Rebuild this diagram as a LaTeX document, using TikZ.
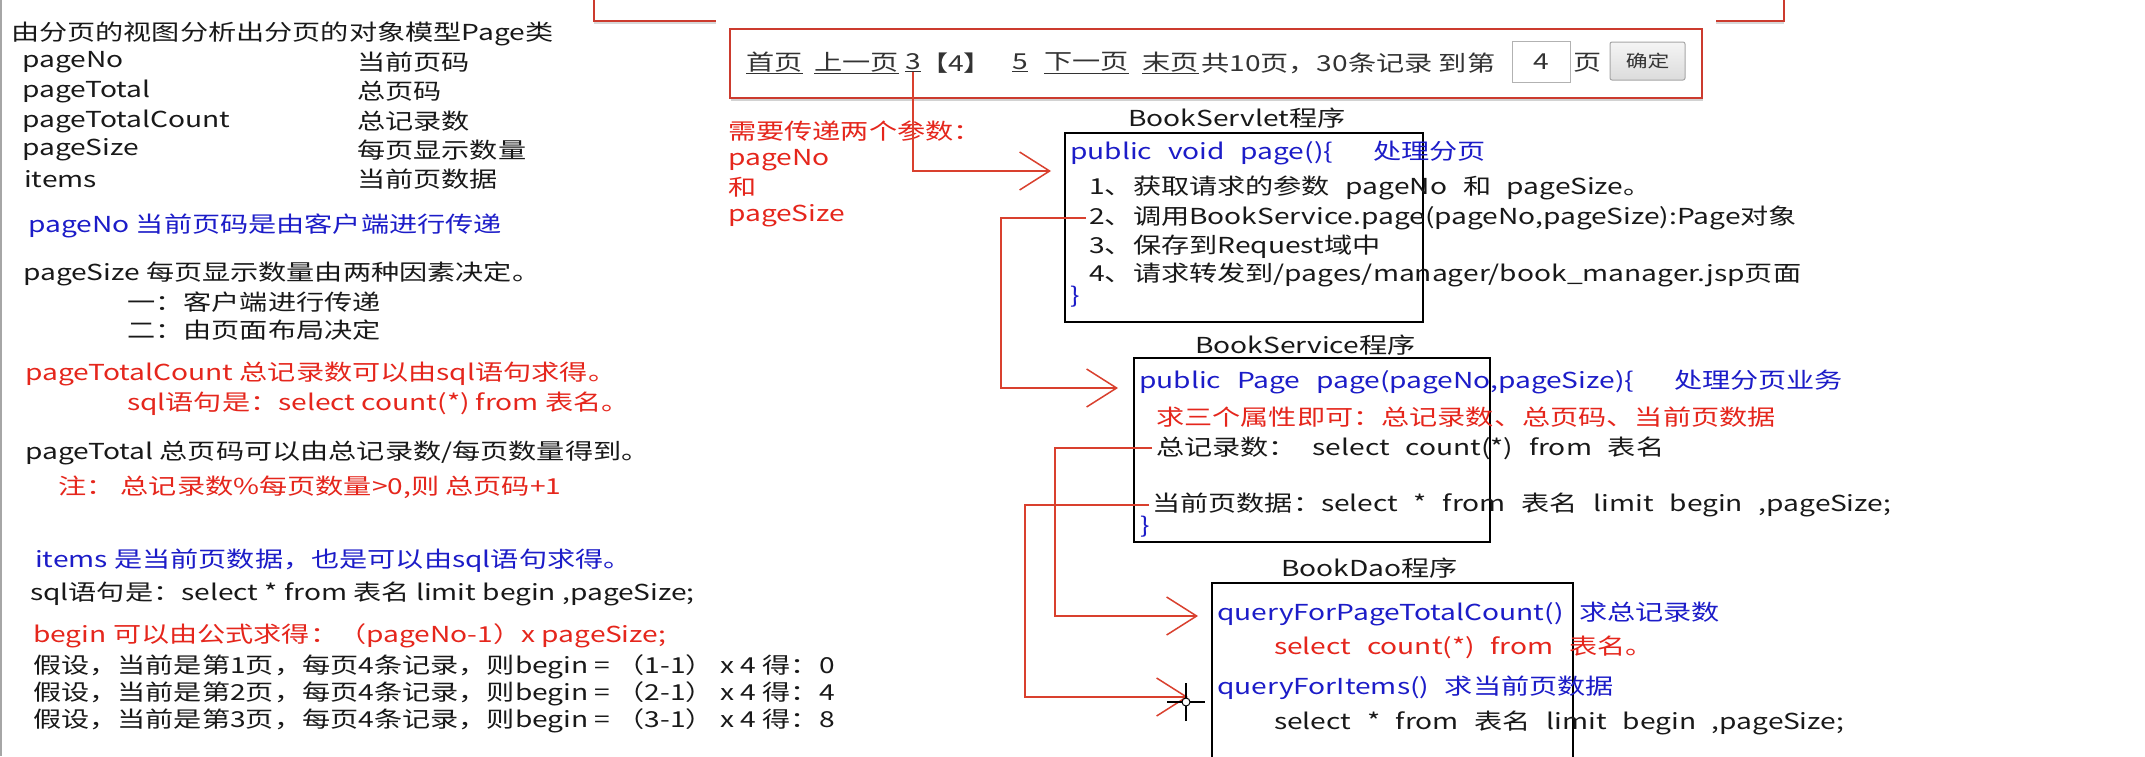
\documentclass[tikz,border=0pt]{standalone}
\usepackage{fontspec}
\setmainfont[FakeStretch=1.28]{Noto Sans CJK SC}
\newfontfamily\codefam[FakeStretch=1.28,WordSpace=2.5]{Noto Sans CJK SC}
\usetikzlibrary{arrows.meta,shadows}
\definecolor{tblue}{HTML}{1C1CC8}
\definecolor{tred}{HTML}{E5261C}
\definecolor{lred}{HTML}{D9402E}
\definecolor{bred}{HTML}{CC3B2E}
\definecolor{pgray}{HTML}{333333}
\begin{document}
\begin{tikzpicture}[x=1pt,y=-1pt,
  txt/.style={anchor=west,inner sep=0pt,font=\fontsize{22}{26}\selectfont,text=black!90},
  bl/.style={txt,text=tblue},
  rd/.style={txt,text=tred},
  ctxt/.style={txt,font=\codefam\fontsize{22}{26}\selectfont},
  cbl/.style={ctxt,text=tblue},
  crd/.style={ctxt,text=tred},
  pg/.style={anchor=west,inner sep=0pt,font=\fontsize{22}{26}\selectfont,text=pgray},
  frame/.style={anchor=north west,inner sep=0pt,outer sep=0pt},
  codebox/.style={frame,draw=black,line width=1.6pt},
  link/.style={draw=lred,line width=1.5pt,-{Straight Barb[length=30pt,width=38pt,line width=1.5pt]}},
]
\useasboundingbox (0,0) rectangle (2145,756);
\fill[white] (0,0) rectangle (2145,756);
\draw[gray!70,line width=2.5pt] (1.2,0) -- (1.2,756);

% top box (partly visible) and pagination bar
\node[frame,draw=bred,line width=1.5pt,fill=white,drop shadow={opacity=0.3,shadow xshift=0pt,shadow yshift=-3pt},
      minimum width=1190pt,minimum height=40pt] (topbox) at (594,-19) {};
\fill[white] (716,12) rectangle (1716,28);
\node[frame,draw=bred,line width=1.5pt,fill=white,drop shadow={opacity=0.35,shadow xshift=1pt,shadow yshift=-3pt},
      minimum width=972pt,minimum height=69pt] (pagebar) at (730,29) {};
\node[pg] (pfirst) at (746,63) {\underline{首页}};
\node[pg] (pprev) at (814,63) {\underline{上一页}};
\node[pg] (p3) at (905,63) {\underline{3}};
\node[pg] (p4) at (920,63) {【4】};
\node[pg] (p5) at (1012,63) {\underline{5}};
\node[pg] (pnext) at (1044,63) {\underline{下一页}};
\node[pg] (plast) at (1142,63) {\underline{末页}};
\node[pg] (ptotal) at (1201,63) {共10页，30条记录 到第};
\node[frame,draw=black!30,line width=1pt,fill=white,minimum width=58pt,minimum height=41pt,
      font=\fontsize{22}{26}\selectfont,text=pgray] (pinput) at (1512,41) {4};
\node[pg] (ppage) at (1573,63) {页};
\node[frame,draw=black!35,line width=1pt,rounded corners=2pt,top color=gray!8,bottom color=gray!28,
      minimum width=75pt,minimum height=38pt,font=\fontsize{17}{20}\selectfont,text=pgray] (pok) at (1610,42) {确定};

% left column
\node[txt] (title) at (11,34) {由分页的视图分析出分页的对象模型Page类};
\node[txt] (f1) at (22,62) {pageNo};          \node[txt] (d1) at (357,62) {当前页码};
\node[txt] (f2) at (22,91) {pageTotal};       \node[txt] (d2) at (357,91) {总页码};
\node[txt] (f3) at (22,121) {pageTotalCount}; \node[txt] (d3) at (357,121) {总记录数};
\node[txt] (f4) at (22,150) {pageSize};       \node[txt] (d4) at (357,150) {每页显示数量};
\node[txt] (f5) at (24,179) {items};          \node[txt] (d5) at (357,179) {当前页数据};
\node[bl] (n1) at (28,226) {pageNo 当前页码是由客户端进行传递};
\node[txt] (n2) at (23,274) {pageSize 每页显示数量由两种因素决定。};
\node[txt] (n3) at (127,302) {一：客户端进行传递};
\node[txt] (n4) at (127,330) {二：由页面布局决定};
\node[rd] (n5) at (25,374) {pageTotalCount 总记录数可以由sql语句求得。};
\node[rd] (n6) at (127,404) {sql语句是：select count(*) from 表名。};
\node[txt] (n7) at (25,453) {pageTotal 总页码可以由总记录数/每页数量得到。};
\node[rd] (n8) at (58,487) {注：\ 总记录数\%每页数量>0,则 总页码+1};
\node[bl] (n9) at (35,561) {items 是当前页数据，也是可以由sql语句求得。};
\node[txt] (n10) at (30,594) {sql语句是：select * from 表名 limit begin ,pageSize;};
\node[rd] (n11) at (33,636) {begin 可以由公式求得：（pageNo-1）x pageSize;};
\node[txt] (n12) at (33,667) {假设，当前是第1页，每页4条记录，则begin = （1-1） x 4 得：0};
\node[txt] (n13) at (33,694) {假设，当前是第2页，每页4条记录，则begin = （2-1） x 4 得：4};
\node[txt] (n14) at (33,721) {假设，当前是第3页，每页4条记录，则begin = （3-1） x 4 得：8};

% parameters
\node[rd] (q1) at (728,131) {需要传递两个参数：};
\node[rd] (q2) at (728,160) {pageNo};
\node[rd] (q3) at (728,187) {和};
\node[rd] (q4) at (728,216) {pageSize};

% BookServlet
\node[txt] (svt) at (1128,118) {BookServlet程序};
\node[codebox,minimum width=358pt,minimum height=189pt] (svbox) at (1065,133) {};
\node[cbl] (sv0) at (1070,153) {public void page()\{\hspace{40pt}处理分页};
\node[ctxt] (sv1) at (1089,188) {1、获取请求的参数 pageNo 和 pageSize。};
\node[ctxt] (sv2) at (1089,218) {2、调用BookService.page(pageNo,pageSize):Page对象};
\node[ctxt] (sv3) at (1089,247) {3、保存到Request域中};
\node[ctxt] (sv4) at (1089,275) {4、请求转发到/pages/manager/book\_manager.jsp页面};
\node[cbl] (sv5) at (1070,297) {\}};

% BookService
\node[txt] (set) at (1195,345) {BookService程序};
\node[codebox,minimum width=356pt,minimum height=184pt] (sebox) at (1134,358) {};
\node[cbl] (se0) at (1139,382) {public Page page(pageNo,pageSize)\{\hspace{40pt}处理分页业务};
\node[crd] (se1) at (1156,417) {求三个属性即可：总记录数、总页码、当前页数据};
\node[ctxt] (se2) at (1156,448) {总记录数：\ select count(*) from 表名};
\node[ctxt] (se3) at (1152,505) {当前页数据：select * from 表名 limit begin ,pageSize;};
\node[cbl] (se4) at (1140,527) {\}};

% BookDao
\node[txt] (dat) at (1281,568) {BookDao程序};
\node[codebox,minimum width=361pt,minimum height=200pt] (dabox) at (1212,583) {};
\node[cbl] (da0) at (1217,614) {queryForPageTotalCount() 求总记录数};
\node[crd] (da1) at (1274,647) {select count(*) from 表名。};
\node[cbl] (da2) at (1217,688) {queryForItems() 求当前页数据};
\node[ctxt] (da3) at (1274,723) {select * from 表名 limit begin ,pageSize;};

% connectors
\coordinate (a1e) at (1051,171);
\draw[link] (p3.south) |- (a1e);
\coordinate (k2) at (1001,388); \coordinate (a2e) at (1118,388);
\draw[link] ([xshift=-3pt]sv2.west) -| (k2) -- (a2e);
\coordinate (k3) at (1055,616); \coordinate (a3e) at (1198,616);
\draw[link] ([xshift=-4pt]se2.west) -| (k3) -- (a3e);
\coordinate (k4) at (1025,697); \coordinate (a4e) at (1188,697);
\draw[link] ([xshift=-3pt]se3.west) -| (k4) -- (a4e);

% mouse cursor
\coordinate (cur) at (1186,702);
\draw[black,line width=1.2pt] ([xshift=-19pt]cur) -- ([xshift=19pt]cur) ([yshift=-19pt]cur) -- ([yshift=19pt]cur);
\draw[black,fill=white,line width=1pt] (cur) circle (4pt);
\end{tikzpicture}
\end{document}
